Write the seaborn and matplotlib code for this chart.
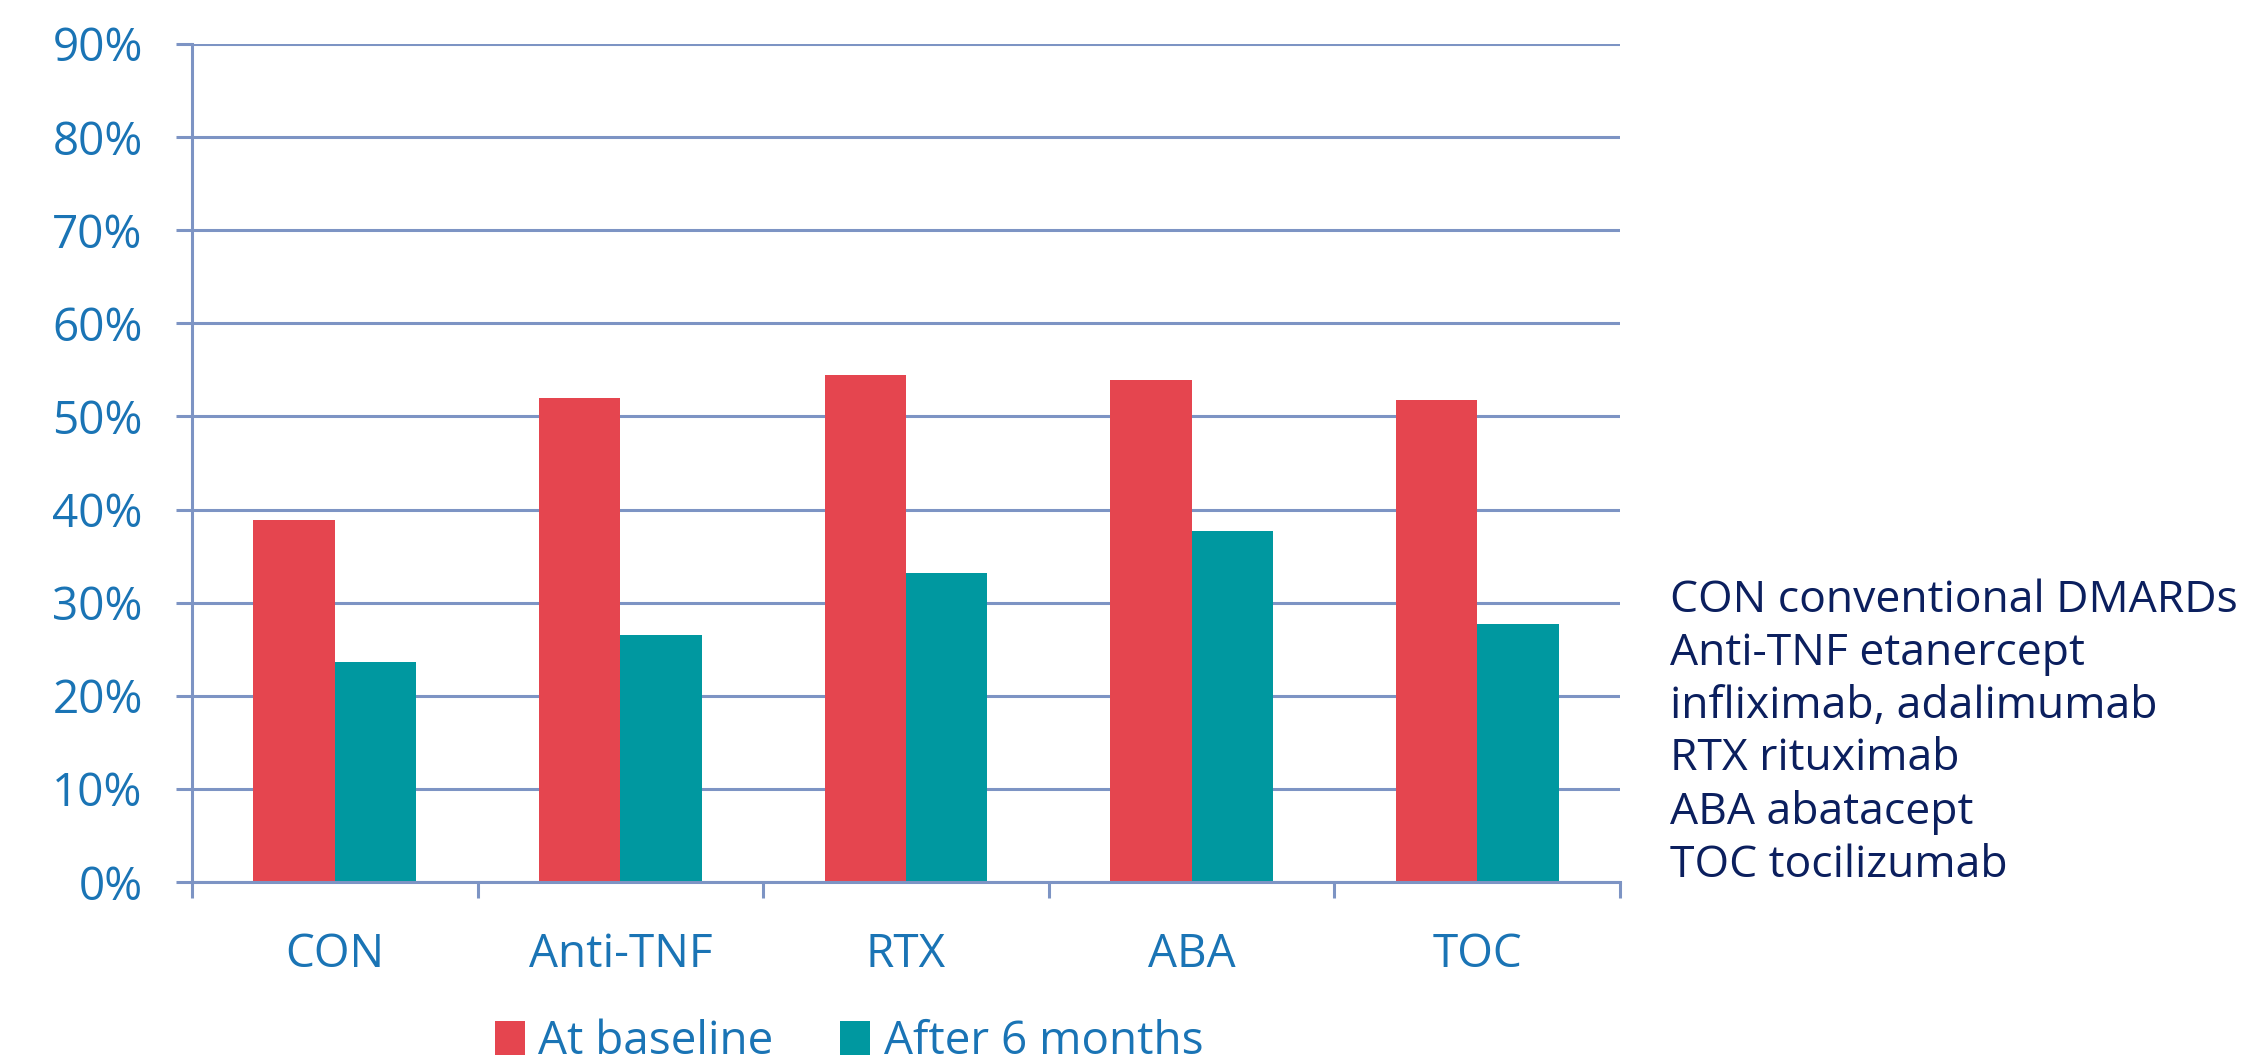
import matplotlib
matplotlib.use("Agg")
import matplotlib.pyplot as plt
import seaborn as sns
import pandas as pd
from matplotlib.ticker import PercentFormatter, FixedLocator

# Share of patients per treatment group (%)
categories = ["CON", "Anti-TNF", "RTX", "ABA", "TOC"]
at_baseline = [38.9, 52.0, 54.4, 53.9, 51.8]
after_6_months = [23.6, 26.5, 33.2, 37.7, 27.7]
series_names = ["At baseline", "After 6 months"]
y_ticks = [0, 10, 20, 30, 40, 50, 60, 70, 80, 90]
abbreviations = [
    "CON conventional DMARDs",
    "Anti-TNF etanercept",
    "infliximab, adalimumab",
    "RTX rituximab",
    "ABA abatacept",
    "TOC tocilizumab",
]

RED = "#E5454F"
TEAL = "#0098A0"
LABEL_BLUE = "#1A74B5"
NAVY = "#0B1F5E"
GRID = "#7D94C4"

df = pd.DataFrame({
    "group": categories * 2,
    "series": [series_names[0]] * len(categories) + [series_names[1]] * len(categories),
    "value": at_baseline + after_6_months,
})

sns.set_theme(style="white")
plt.rcParams["font.family"] = ["Open Sans", "DejaVu Sans"]

W, H = 2248, 1061
fig = plt.figure(figsize=(W / 100, H / 100), dpi=100)
ax = fig.add_axes([192 / W, 179 / H, 1428 / W, 838 / H])

sns.barplot(
    data=df, x="group", y="value", hue="series",
    order=categories, hue_order=series_names,
    palette=[RED, TEAL], width=0.57, saturation=1,
    linewidth=0, ax=ax, legend=True,
)

ax.set_ylim(0, 90)
ax.set_xlim(-0.5, len(categories) - 0.5)
ax.set_yticks(y_ticks)
ax.yaxis.set_major_formatter(PercentFormatter(decimals=0))
ax.set_xlabel("")
ax.set_ylabel("")

ax.set_axisbelow(True)
ax.grid(axis="y", color=GRID, linewidth=2.2)
ax.grid(axis="x", visible=False)

for side in ["top", "right"]:
    ax.spines[side].set_visible(False)
for side in ["left", "bottom"]:
    ax.spines[side].set_visible(True)
    ax.spines[side].set_color(GRID)
    ax.spines[side].set_linewidth(2.2)

# category separators below the baseline
ax.xaxis.set_minor_locator(FixedLocator([i - 0.5 for i in range(len(categories) + 1)]))
ax.tick_params(axis="x", which="minor", length=11.5, width=2.2, color=GRID, direction="out", bottom=True)
ax.tick_params(axis="x", which="major", length=0, pad=36, labelsize=33, labelcolor=LABEL_BLUE)
ax.tick_params(axis="y", which="major", length=11.5, width=2.2, color=GRID, direction="out",
               left=True, pad=24, labelsize=33, labelcolor=LABEL_BLUE)

leg = ax.legend(
    loc="center", bbox_to_anchor=(849 / W, (H - 1042) / H), bbox_transform=fig.transFigure,
    ncol=2, frameon=False, fontsize=33, handlelength=0.65, handleheight=0.75,
    handletextpad=0.3, columnspacing=1.45, borderaxespad=0, borderpad=0,
)
for t in leg.get_texts():
    t.set_color(LABEL_BLUE)

fig.text(1670 / W, (H - 733) / H, "\n".join(abbreviations), ha="left", va="center",
         fontsize=32, color=NAVY, linespacing=1.25)

fig.savefig("out.png", dpi=100)
